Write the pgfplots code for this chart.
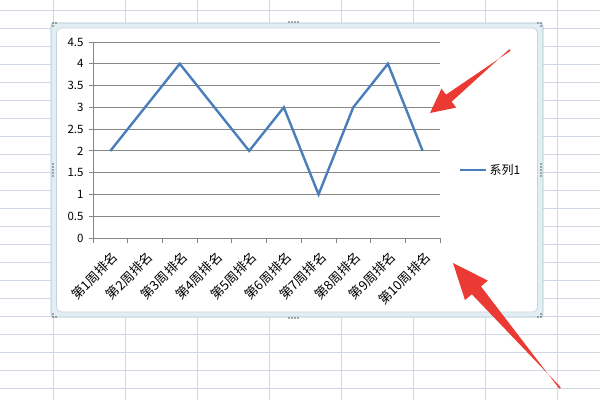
\documentclass[border=0pt]{standalone}
\usepackage{pgfplots}
\pgfplotsset{compat=1.18}
\usepackage{fontspec}
\setmainfont{Noto Sans CJK SC}
\usetikzlibrary{calc}

\definecolor{cellgrid}{HTML}{D0D7E5}
\definecolor{framefill}{HTML}{E2EEF3}
\definecolor{frameline}{HTML}{A9C1CD}
\definecolor{axisgrey}{HTML}{868686}
\definecolor{seriesblue}{HTML}{4A7EBB}
\definecolor{arrowred}{HTML}{EA3A33}

% tapered red pointer: #1 tail, #2 tip, #3 head length, #4 head half-width, #5 shaft half-width
\newcommand{\pointer}[5]{%
  \coordinate (T) at #1;
  \coordinate (P) at #2;
  \coordinate (H) at ($(P)!#3!(T)$);
  \fill[arrowred]
    ($(T)!1pt!90:(P)$) -- ($(H)!#5!-90:(P)$) -- ($(H)!#4!-90:(P)$) -- (P)
    -- ($(H)!#4!90:(P)$) -- ($(H)!#5!90:(P)$) -- ($(T)!1pt!-90:(P)$) -- cycle;
}

\begin{document}
\begin{tikzpicture}[x=1pt,y=1pt]
\useasboundingbox (0,0) rectangle (600,400);
\fill[white] (0,0) rectangle (600,400);

% worksheet cells
\foreach \r in {0,...,21} {
  \draw[cellgrid, line width=0.8pt] (0,{400-10-18*\r}) -- (600,{400-10-18*\r});
}
\foreach \c in {53,125,197,269,341,413,485,557} {
  \draw[cellgrid, line width=0.8pt] (\c,0) -- (\c,400);
}

% chart object frame
\filldraw[fill=framefill, draw=frameline, line width=0.8pt, rounded corners=3pt]
  (51,83) rectangle (543,377);
\filldraw[fill=white, draw=frameline!70, line width=0.6pt, rounded corners=5pt]
  (56.5,88) rectangle (537.5,372);
% sizing handles
\foreach \x in {289,292,295,298} { \fill[gray!70!black] (\x,378) circle (0.8); \fill[gray!70!black] (\x,82) circle (0.8); }
\foreach \y in {224,227,230,233,236} { \fill[gray!70!black] (53,\y) circle (0.8); \fill[gray!70!black] (541,\y) circle (0.8); }
\foreach \x/\y in {53/377,56/377,53/374,541/377,538/377,541/374,53/83,56/83,53/86,541/83,538/83,541/86} {
  \fill[gray!70!black] (\x,\y) circle (0.8);
}

\begin{axis}[
  at={(93pt,162pt)}, anchor=south west,
  scale only axis, width=347pt, height=196pt,
  xmin=0, xmax=10, ymin=0, ymax=4.5,
  axis x line*=bottom, axis y line*=left,
  axis line style={axisgrey, line width=0.8pt, -},
  xtick={0.5,1.5,2.5,3.5,4.5,5.5,6.5,7.5,8.5,9.5},
  xticklabels={第1周排名,第2周排名,第3周排名,第4周排名,第5周排名,第6周排名,第7周排名,第8周排名,第9周排名,第10周排名},
  major x tick style={draw=none},
  minor xtick={0,1,...,10},
  minor tick length=5pt,
  major tick length=4pt,
  tick align=outside,
  tick style={axisgrey, line width=0.8pt},
  ytick={0,0.5,...,4.5},
  ymajorgrids,
  grid style={axisgrey, line width=0.8pt},
  /pgf/number format/assume math mode=true,
  yticklabel style={font=\fontsize{11.5}{13}\selectfont, xshift=-2pt},
  xticklabel style={font=\fontsize{13}{15}\selectfont, rotate=45, anchor=east, xshift=-2pt, yshift=-13pt},
  legend style={at={(1.055,0.347)}, anchor=west, draw=none, fill=none,
    font=\fontsize{12}{14}\selectfont, inner sep=0pt},
  legend image code/.code={\draw[#1] (0pt,0pt) -- (26pt,0pt);},
  clip=false,
]
\addplot[seriesblue, line width=2.4pt] coordinates {
  (0.5,2) (1.5,3) (2.5,4) (3.5,3) (4.5,2) (5.5,3) (6.5,1) (7.5,3) (8.5,4) (9.5,2)
};
\addlegendentry{系列1}
\end{axis}

% red pointers
\pointer{(510,350)}{(430,287)}{24pt}{12pt}{4.5pt}
\pointer{(560,12)}{(453,137)}{36pt}{15pt}{6pt}
\end{tikzpicture}
\end{document}
